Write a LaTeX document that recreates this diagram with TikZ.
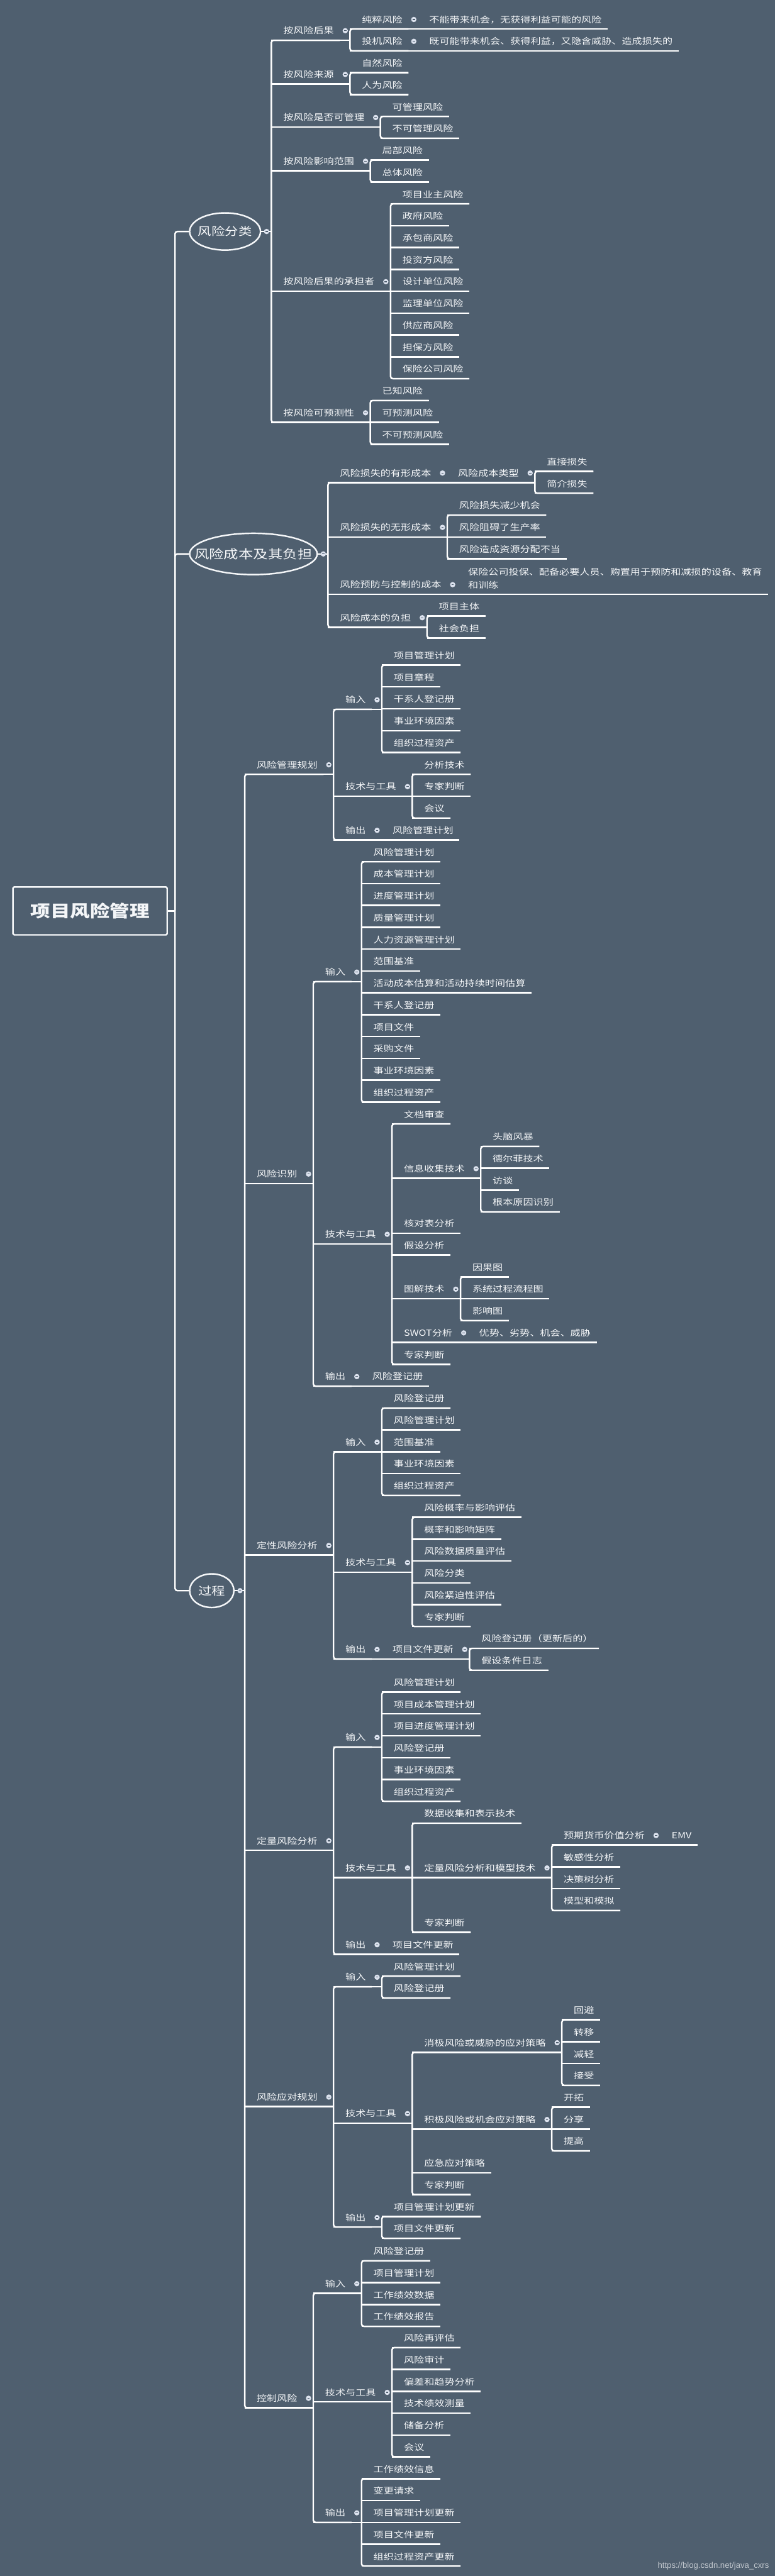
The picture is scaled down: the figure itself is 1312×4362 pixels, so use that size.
\documentclass[tikz,border=0pt]{standalone}
\usepackage{fontspec}
\usepackage{xcolor}
\usepackage{tikz}
\usetikzlibrary{calc,shapes.geometric}
\newfontfamily\cjk[FakeStretch=1.2]{Noto Sans CJK SC}
\newfontfamily\wmfont{Liberation Sans}
\definecolor{bgc}{HTML}{4F5F6F}
\definecolor{linec}{HTML}{FFFFFF}
\definecolor{mkc}{HTML}{DCE2EE}
\definecolor{txtc}{HTML}{F4F6F8}
\definecolor{wmc}{HTML}{BFC5CC}
\tikzset{
  ln/.style={line width=2.6pt,linec,rounded corners=4pt},
  lt/.style={txtc,font=\cjk\fontsize{14.3}{23}\selectfont,inner xsep=10pt,inner ysep=0pt,anchor=west},
  lf/.style={lt,minimum height=32pt,text height=12.3pt,text depth=1.5pt},
  topic/.style={ellipse,draw=linec,line width=2.6pt,txtc,font=\cjk\fontsize{19}{22}\selectfont,inner sep=0pt},
  rootbox/.style={draw=linec,line width=2.6pt,rounded corners=2pt,txtc,font=\cjk\bfseries\fontsize{28}{30}\selectfont,minimum width=261pt,minimum height=81pt},
  wm/.style={wmc,font=\wmfont\fontsize{14}{16}\selectfont,anchor=east,inner sep=0pt}
}
% collapse marker after a parent
\newcommand{\mk}[1]{\fill[mkc] ([xshift=9pt]#1.east) circle (4.5pt);
  \draw[bgc,line width=1.3pt] ([xshift=7pt]#1.east) -- ([xshift=11pt]#1.east);}
% text of a main topic, its ellipse size is given by the node
\newcommand{\tp}[1]{\makebox[0pt]{#1}}
% children of a node: name/y/text
\newcommand{\kids}[3][south east]{%
  \path (#2.east) ++(17pt,0) coordinate (#2-j) ++(10pt,0) coordinate (#2-k);
  \draw[ln] (#2.#1) -- (#2-j |- #2.#1);
  \foreach \nm/\yy/\tx [count=\i] in {#3}{%
    \node[lf] (\nm) at (#2-k |- 0,\yy) {\tx};
    \ifnum\i=1 \xdef\kfirst{\nm}\fi
    \xdef\klast{\nm}}
  \draw[ln] (\kfirst.south east) -- (#2-j |- \kfirst.south) -- (#2-j |- \klast.south) -- (\klast.south east);
  \foreach \nm/\yy/\tx in {#3}{\draw[ln] (#2-j |- \nm.south) -- (\nm.south east);}
  \mk{#2}}
% single child on the same line
\newcommand{\onekid}[3]{\node[lf] (#2) at ([xshift=25pt]#1.east) {#3};
  \draw[ln] (#1.south east) -- (#2.south east);
  \mk{#1}}

\begin{document}
\begin{tikzpicture}[x=1pt,y=-1pt]
\useasboundingbox (0,0) rectangle (1312,4362);
\fill[bgc] (0,0) rectangle (1312,4362);

\node[rootbox] (root) at (152.5,1542.5) {项目风险管理};
\node[topic,minimum width=120pt,minimum height=63pt] (fx) at (381,392) {\tp{风险分类}};
\node[topic,minimum width=216pt,minimum height=70pt,font=\cjk\fontsize{20.8}{23}\selectfont] (fc) at (429,938) {\tp{风险成本及其负担}};
\node[topic,minimum width=75pt,minimum height=57pt] (gc) at (358.5,2693.5) {\tp{过程}};
\draw[ln] (root.east) -- ++(12pt,0) coordinate (tk);
\foreach \t in {fx,fc,gc} \draw[ln] (tk) |- (\t.west);

% 风险分类
\kids[east]{fx}{rk1/52/按风险后果, rk2/126/按风险来源, rk3/199/按风险是否可管理, rk4/273/按风险影响范围,
  rk5/477/按风险后果的承担者, rk6/699/按风险可预测性}
\kids{rk1}{rk1a/33/纯粹风险, rk1b/70/投机风险}
\onekid{rk1a}{rk1c}{不能带来机会，无获得利益可能的风险}
\onekid{rk1b}{rk1d}{既可能带来机会、获得利益，又隐含威胁、造成损失的}
\kids{rk2}{rk2a/107/自然风险, rk2b/144/人为风险}
\kids{rk3}{rk3a/181/可管理风险, rk3b/218/不可管理风险}
\kids{rk4}{rk4a/255/局部风险, rk4b/292/总体风险}
\kids{rk5}{rk5a/329/项目业主风险, rk5b/366/政府风险, rk5c/403/承包商风险, rk5d/440/投资方风险,
  rk5e/477/设计单位风险, rk5f/514/监理单位风险, rk5g/551/供应商风险, rk5h/588/担保方风险,
  rk5i/625/保险公司风险}
\kids{rk6}{rk6a/662/已知风险, rk6b/699/可预测风险, rk6c/736/不可预测风险}

% 风险成本及其负担
\kids[east]{fc}{rc1/801/风险损失的有形成本, rc2/893/风险损失的无形成本, rc3/990/风险预防与控制的成本,
  rc4/1046/风险成本的负担}
\onekid{rc1}{rc1a}{风险成本类型}
\kids{rc1a}{rc1b/782/直接损失, rc1c/819/简介损失}
\kids{rc2}{rc2a/856/风险损失减少机会, rc2b/893/风险阻碍了生产率, rc2c/930/风险造成资源分配不当}
\path ([xshift=25pt]rc3.east) coordinate (rc3-k);
\node[lt,align=left] (rc3a) at (rc3-k |- 0,979.5) {保险公司投保、配备必要人员、购置用于预防和减损的设备、教育\\和训练};
\draw[ln] (rc3.south east) -- (rc3a.east |- rc3.south);
\mk{rc3}
\kids{rc4}{rc4a/1027/项目主体, rc4b/1064/社会负担}

% 过程
\kids[east]{gc}{p1/1295/风险管理规划, p2/1988/风险识别, p3/2617/定性风险分析, p4/3117/定量风险分析,
  p5/3551/风险应对规划, p6/4061/控制风险}

\kids{p1}{p1a/1185/输入, p1b/1332/技术与工具, p1c/1406/输出}
\kids{p1a}{p1a1/1110/项目管理计划, p1a2/1147/项目章程, p1a3/1184/干系人登记册, p1a4/1221/事业环境因素,
  p1a5/1258/组织过程资产}
\kids{p1b}{p1b1/1295/分析技术, p1b2/1332/专家判断, p1b3/1369/会议}
\onekid{p1c}{p1c1}{风险管理计划}

\kids{p2}{p2a/1646/输入, p2b/2090/技术与工具, p2c/2331/输出}
\kids{p2a}{p2a1/1443/风险管理计划, p2a2/1480/成本管理计划, p2a3/1517/进度管理计划, p2a4/1554/质量管理计划,
  p2a5/1591/人力资源管理计划, p2a6/1628/范围基准, p2a7/1665/活动成本估算和活动持续时间估算,
  p2a8/1702/干系人登记册, p2a9/1739/项目文件, p2a10/1776/采购文件, p2a11/1813/事业环境因素,
  p2a12/1850/组织过程资产}
\kids{p2b}{p2b1/1887/文档审查, p2b2/1979/信息收集技术, p2b3/2072/核对表分析, p2b4/2109/假设分析,
  p2b5/2183/图解技术, p2b6/2257/SWOT分析, p2b7/2294/专家判断}
\kids{p2b2}{p2b2a/1925/头脑风暴, p2b2b/1962/德尔菲技术, p2b2c/1999/访谈, p2b2d/2036/根本原因识别}
\kids{p2b5}{p2b5a/2146/因果图, p2b5b/2183/系统过程流程图, p2b5c/2220/影响图}
\onekid{p2b6}{p2b6a}{优势、劣势、机会、威胁}
\onekid{p2c}{p2c1}{风险登记册}

\kids{p3}{p3a/2442/输入, p3b/2646/技术与工具, p3c/2793/输出}
\kids{p3a}{p3a1/2368/风险登记册, p3a2/2405/风险管理计划, p3a3/2442/范围基准, p3a4/2479/事业环境因素,
  p3a5/2516/组织过程资产}
\kids{p3b}{p3b1/2553/风险概率与影响评估, p3b2/2590/概率和影响矩阵, p3b3/2627/风险数据质量评估,
  p3b4/2664/风险分类, p3b5/2701/风险紧迫性评估, p3b6/2738/专家判断}
\onekid{p3c}{p3c1}{项目文件更新}
\kids{p3c1}{p3c1a/2775/风险登记册（更新后的）, p3c1b/2812/假设条件日志}

\kids{p4}{p4a/2942/输入, p4b/3163/技术与工具, p4c/3293/输出}
\kids{p4a}{p4a1/2849/风险管理计划, p4a2/2886/项目成本管理计划, p4a3/2923/项目进度管理计划,
  p4a4/2960/风险登记册, p4a5/2997/事业环境因素, p4a6/3034/组织过程资产}
\kids{p4b}{p4b1/3071/数据收集和表示技术, p4b2/3163/定量风险分析和模型技术, p4b3/3256/专家判断}
\kids{p4b2}{p4b2a/3108/预期货币价值分析, p4b2b/3145/敏感性分析, p4b2c/3182/决策树分析, p4b2d/3219/模型和模拟}
\onekid{p4b2a}{p4b2e}{EMV}
\onekid{p4c}{p4c1}{项目文件更新}

\kids{p5}{p5a/3348/输入, p5b/3579/技术与工具, p5c/3755/输出}
\kids{p5a}{p5a1/3330/风险管理计划, p5a2/3367/风险登记册}
\kids{p5b}{p5b1/3459/消极风险或威胁的应对策略, p5b2/3589/积极风险或机会应对策略, p5b3/3663/应急应对策略,
  p5b4/3700/专家判断}
\kids{p5b1}{p5b1a/3404/回避, p5b1b/3441/转移, p5b1c/3478/减轻, p5b1d/3515/接受}
\kids{p5b2}{p5b2a/3552/开拓, p5b2b/3589/分享, p5b2c/3626/提高}
\kids{p5c}{p5c1/3737/项目管理计划更新, p5c2/3774/项目文件更新}

\kids{p6}{p6a/3867/输入, p6b/4051/技术与工具, p6c/4255/输出}
\kids{p6a}{p6a1/3812/风险登记册, p6a2/3849/项目管理计划, p6a3/3886/工作绩效数据, p6a4/3923/工作绩效报告}
\kids{p6b}{p6b1/3959/风险再评估, p6b2/3996/风险审计, p6b3/4033/偏差和趋势分析, p6b4/4070/技术绩效测量,
  p6b5/4107/储备分析, p6b6/4144/会议}
\kids{p6c}{p6c1/4181/工作绩效信息, p6c2/4218/变更请求, p6c3/4255/项目管理计划更新, p6c4/4292/项目文件更新,
  p6c5/4329/组织过程资产更新}

\node[wm] (wmk) at (1302,4345) {https://blog.csdn.net/java\_cxrs};
\end{tikzpicture}
\end{document}
